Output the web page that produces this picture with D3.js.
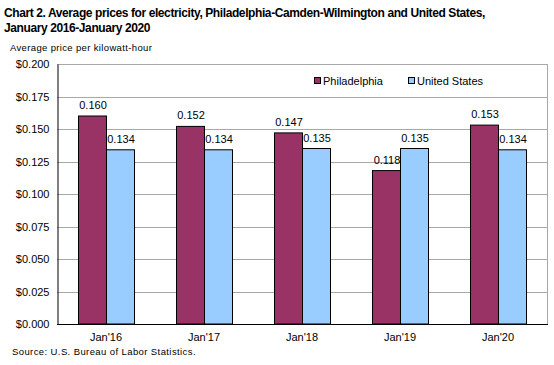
<!DOCTYPE html>
<html><head><meta charset="utf-8">
<script src="https://cdn.jsdelivr.net/npm/d3@7"></script>
<style>body{margin:0;background:#fff}svg{display:block}text{font-family:"Liberation Sans",Arial,sans-serif;fill:#000}</style>
</head><body><svg id="c" width="554" height="365"></svg>
<script>
const categories = ["Jan'16","Jan'17","Jan'18","Jan'19","Jan'20"];
const seriesNames = ["Philadelphia","United States"];
const philadelphia = [0.160,0.152,0.147,0.118,0.153];
const unitedStates = [0.134,0.134,0.135,0.135,0.134];
const yTicks = [0,0.025,0.05,0.075,0.1,0.125,0.15,0.175,0.2];
const colors = ["#993366","#99ccff"];

const svg = d3.select("#c");
const L=57,R=547,T=64,B=324;
const x = d3.scaleBand().domain(categories).range([L,R]).paddingInner(0).paddingOuter(0);
const x1 = d3.scaleBand().domain(seriesNames).range([x.bandwidth()/2-28,x.bandwidth()/2+28]);
const y = d3.scaleLinear().domain([0,0.2]).range([B,T]);

svg.append("text").attr("x",4).attr("y",17).attr("font-size",12).attr("font-weight","bold").attr("letter-spacing",-0.4)
  .text("Chart 2. Average prices for electricity, Philadelphia-Camden-Wilmington and United States,");
svg.append("text").attr("x",4).attr("y",32).attr("font-size",12).attr("font-weight","bold").attr("letter-spacing",-0.4)
  .text("January 2016-January 2020");
svg.append("text").attr("x",10).attr("y",51).attr("font-size",9.5).attr("letter-spacing",0.35).text("Average price per kilowatt-hour");

// gridlines
svg.append("g").selectAll("line").data(yTicks.filter(d=>d>0)).join("line")
  .attr("x1",L).attr("x2",R).attr("y1",d=>Math.round(y(d))+0.5).attr("y2",d=>Math.round(y(d))+0.5)
  .attr("stroke","#a8a8a8").attr("stroke-width",1);
// right border
svg.append("line").attr("x1",R+0.5).attr("x2",R+0.5).attr("y1",T).attr("y2",B).attr("stroke","#a8a8a8");

// y axis
const ya = d3.axisLeft(y).tickValues(yTicks).tickFormat(d=>"$"+d3.format(".3f")(d)).tickSize(0).tickPadding(8);
const gy = svg.append("g").attr("transform",`translate(${L+0.5},0)`).call(ya);
gy.select(".domain").attr("stroke","#000");
gy.selectAll("text").attr("font-size",11).attr("font-family","Liberation Sans, Arial, sans-serif");

// bars
const data = categories.map((c,i)=>({c,vals:[philadelphia[i],unitedStates[i]]}));
const gc = svg.append("g").selectAll("g").data(data).join("g").attr("transform",d=>`translate(${x(d.c)},0)`);
gc.selectAll("rect").data(d=>d.vals.map((v,j)=>({v,s:seriesNames[j],j}))).join("rect")
  .attr("x",d=>x1(d.s)+0.5).attr("width",x1.bandwidth()).attr("y",d=>y(d.v)).attr("height",d=>B-y(d.v))
  .attr("fill",d=>colors[d.j]).attr("stroke","#000").attr("stroke-width",1);
gc.selectAll("text").data(d=>d.vals.map((v,j)=>({v,s:seriesNames[j],j}))).join("text")
  .attr("x",d=>x1(d.s)+x1.bandwidth()/2+1).attr("y",d=>y(d.v)-7).attr("text-anchor","middle").attr("font-size",11)
  .text(d=>d3.format(".3f")(d.v));

// x axis
const xa = d3.axisBottom(x).tickSize(0).tickPadding(9);
const gx = svg.append("g").attr("transform",`translate(0,${B+0.5})`).call(xa);
gx.select(".domain").attr("stroke","#000").attr("d",`M${L},0H${R+1}`);
gx.selectAll("text").attr("font-size",11).attr("font-family","Liberation Sans, Arial, sans-serif");

// legend
const leg = [{x:314,n:seriesNames[0],c:colors[0]},{x:408,n:seriesNames[1],c:colors[1]}];
const lg = svg.append("g").selectAll("g").data(leg).join("g").attr("transform",d=>`translate(${d.x},0)`);
lg.append("rect").attr("x",0.5).attr("y",77.5).attr("width",6).attr("height",6).attr("fill",d=>d.c).attr("stroke","#000");
lg.append("text").attr("x",9).attr("y",85).attr("font-size",11).text(d=>d.n);

svg.append("text").attr("x",12).attr("y",355).attr("font-size",9.5).attr("letter-spacing",0.4).text("Source: U.S. Bureau of Labor Statistics.");
</script></body></html>
